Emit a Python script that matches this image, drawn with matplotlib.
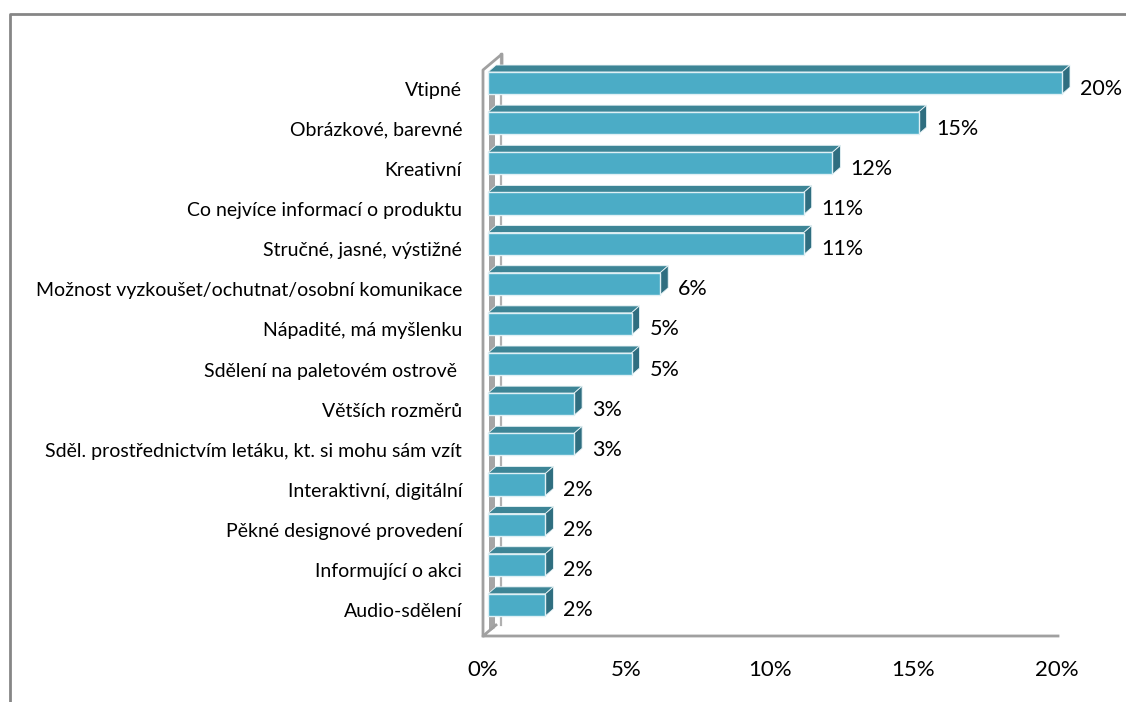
import numpy as np
import matplotlib
matplotlib.use('Agg')
import matplotlib.pyplot as plt
from matplotlib.patches import Polygon
from matplotlib.transforms import offset_copy, IdentityTransform

categories = ['Vtipné', 'Obrázkové, barevné', 'Kreativní',
              'Co nejvíce informací o produktu', 'Stručné, jasné, výstižné',
              'Možnost vyzkoušet/ochutnat/osobní komunikace',
              'Nápadité, má myšlenku', 'Sdělení na paletovém ostrově ',
              'Větších rozměrů',
              'Sděl. prostřednictvím letáku, kt. si mohu sám vzít',
              'Interaktivní, digitální', 'Pěkné designové provedení',
              'Informující o akci', 'Audio-sdělení']
values = [20, 15, 12, 11, 11, 6, 5, 5, 3, 3, 2, 2, 2, 2]
xticks = [0, 5, 10, 15, 20]

plt.rcParams['font.family'] = ['Lato', 'DejaVu Sans']

W, H = 1126, 702
fig = plt.figure(figsize=(W / 100, H / 100), dpi=100)

# plot area in pixels (from the top-left corner)
left_px, right_px, top_px, floor_px = 483, 1057, 70, 636
ax = fig.add_axes([left_px / W, 1 - floor_px / H,
                   (right_px - left_px) / W, (floor_px - top_px) / H])
ax.set_xlim(0, 20)
ax.set_ylim(13.6, -0.5)
for s in ax.spines.values():
    s.set_visible(False)
ax.set_xticks([])
ax.set_yticks([])

front = '#4bacc6'
top_c = '#3d8596'
side_c = '#2f6e80'
wall_c = '#a0a0a0'

# bar front face is shifted a few pixels right/up, depth goes up-right
fx, fy = 5, 7
dx, dy = 8, 7
bh = 0.55

y = np.arange(len(values))
to_disp = ax.transData.transform


def disp_poly(pts, **kw):
    p = Polygon(pts, closed=True, transform=IdentityTransform(), **kw)
    fig.add_artist(p)
    return p


# side wall and floor
y_top, y_bot = -0.5, 13.6
wx0, wy0 = to_disp((0, y_bot))
wx1, wy1 = to_disp((0, y_top))
ex, ey = to_disp((20, y_bot))
wd_x, wd_y = 19, 16
# inner slanted face of the wall (seen between the bars)
disp_poly([(wx0 + 6, wy0 + 4), (wx1 + 6, wy1 - 6), (wx1 + 12, wy1 - 2),
           (wx0 + 12, wy0 + 8)], facecolor='#a6a6a6', edgecolor='none',
          zorder=1)
fig.add_artist(plt.Line2D([wx0 + wd_x - 1, wx1 + wd_x - 1],
                          [wy0 + 11, wy1 + wd_y], color='#b0b0b0', lw=1.6,
                          transform=IdentityTransform(), zorder=1))
fig.add_artist(plt.Line2D([wx0, wx1, wx1 + wd_x, wx1 + wd_x],
                          [wy0, wy1, wy1 + wd_y, wy1 + wd_y - 12],
                          color=wall_c, lw=2, transform=IdentityTransform(),
                          zorder=3))
fig.add_artist(plt.Line2D([wx0 + 13, wx0, ex + 1], [wy0 + 11, wy0, ey],
                          color=wall_c, lw=2, transform=IdentityTransform(),
                          zorder=3))

# bars: front face, top face and right side face
for yi, v in zip(y, values):
    x0, yt = to_disp((0, yi - bh / 2))
    x1, yb = to_disp((v, yi + bh / 2))
    x0 += fx
    x1 += fx
    yt += fy
    yb += fy
    disp_poly([(x0, yt), (x0 + dx, yt + dy), (x1 + dx, yt + dy), (x1, yt)],
              facecolor=top_c, edgecolor='#e8f4f7', lw=0.6, zorder=4)
    disp_poly([(x1, yt), (x1 + dx, yt + dy), (x1 + dx, yb + dy), (x1, yb)],
              facecolor=side_c, edgecolor='#e8f4f7', lw=0.6, zorder=4)
    disp_poly([(x0, yb), (x1, yb), (x1, yt), (x0, yt)],
              facecolor=front, edgecolor='#dff0f5', lw=1.0, zorder=5)

# value labels
lab_tr = offset_copy(ax.transData, fig=fig, x=23, y=1.5, units='dots')
for yi, v in zip(y, values):
    ax.text(v, yi, f'{v}%', transform=lab_tr, ha='left', va='center',
            fontsize=15.5, color='black', zorder=6)

# category labels
cat_tr = offset_copy(ax.transData, fig=fig, x=-21, y=0, units='dots')
for yi, c in zip(y, categories):
    ax.text(0, yi, c, transform=cat_tr, ha='right', va='center',
            fontsize=14, color='black')

# x tick labels under the floor
tick_tr = offset_copy(ax.transData, fig=fig, x=0, y=-34, units='dots')
for t in xticks:
    ax.text(t, y_bot, f'{t}%', transform=tick_tr, ha='center', va='center',
            fontsize=16, color='black')

# chart area border
fig.add_artist(plt.Line2D([10 / W, 10 / W, 1], [0, 1 - 14 / H, 1 - 14 / H],
                          color='#868686', lw=2, transform=fig.transFigure))

fig.savefig('out.png', dpi=100)
